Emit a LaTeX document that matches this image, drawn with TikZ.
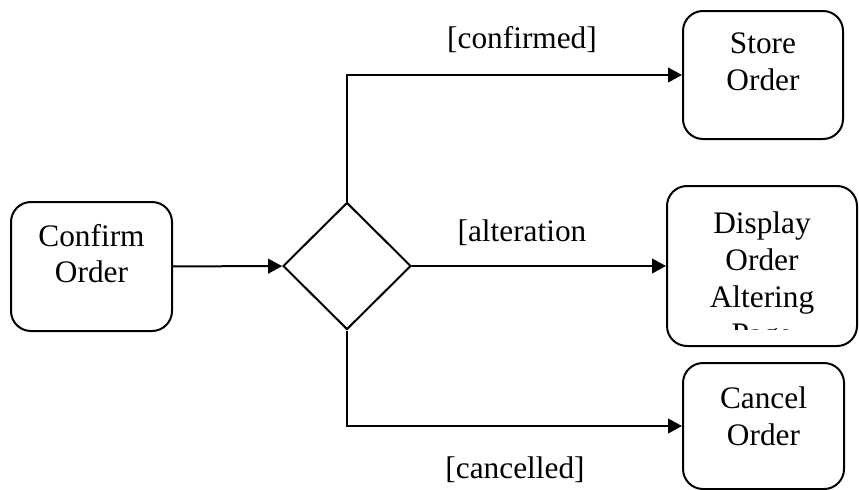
\documentclass[tikz,border=0pt]{standalone}
\usepackage{fontspec}
\setmainfont{Liberation Serif}
\usetikzlibrary{positioning, shapes.geometric, arrows.meta}
\tikzstyle{txt} = [text centered, align=center, inner sep=0pt, font=\fontsize{23.5}{27.75}\selectfont]
\tikzstyle{arrow} = [line width=1.5pt,-{Triangle[length=10.5pt,width=11pt]}]

\begin{document}
\begin{tikzpicture}[x=0.75pt, y=-0.75pt,
actnode/.style={rectangle, draw=black, line width=1.5pt, rounded corners=15pt, inner sep=0pt},
choicenode/.style={diamond, draw=black, line width=1.5pt, inner sep=0pt, minimum width=96pt, minimum height=95.25pt}
]
\useasboundingbox (0,0) rectangle (859,489);
\node[actnode, minimum width=120.75pt, minimum height=96.75pt] (C) at (91.5,266.5) {};
\node[choicenode] (X) at (347,266) {};
\node[actnode, minimum width=120pt, minimum height=96pt] (S) at (763,75) {};
\node[actnode, minimum width=142.5pt, minimum height=120pt] (D) at (762,266) {};
\node[actnode, minimum width=120.75pt, minimum height=94.5pt] (K) at (763.5,426) {};

\node[txt] (Ct) [below=17pt of C.north] {Confirm\\Order};
\node[txt] (St) [below=17pt of S.north] {Store\\Order};
\node[txt] (Kt) [below=18pt of K.north] {Cancel\\Order};
\begin{scope}
\clip (D.north west) rectangle ([yshift=13.5pt]D.south east);
\node[txt] (Dt) [below=20pt of D.north] {Display\\Order\\Altering\\Page};
\end{scope}

\draw[arrow] (C) -- (X);
\draw[arrow] (X.north) |- (S);
\draw[arrow] (X) -- (D);
\draw[arrow] (X.south) |- (K);

\node[txt, anchor=base] (L1) at (522,48) {[confirmed]};
\node[txt, anchor=base] (L2) at (522,241) {[alteration};
\node[txt, anchor=base] (L3) at (515,478) {[cancelled]};
\end{tikzpicture}
\end{document}
